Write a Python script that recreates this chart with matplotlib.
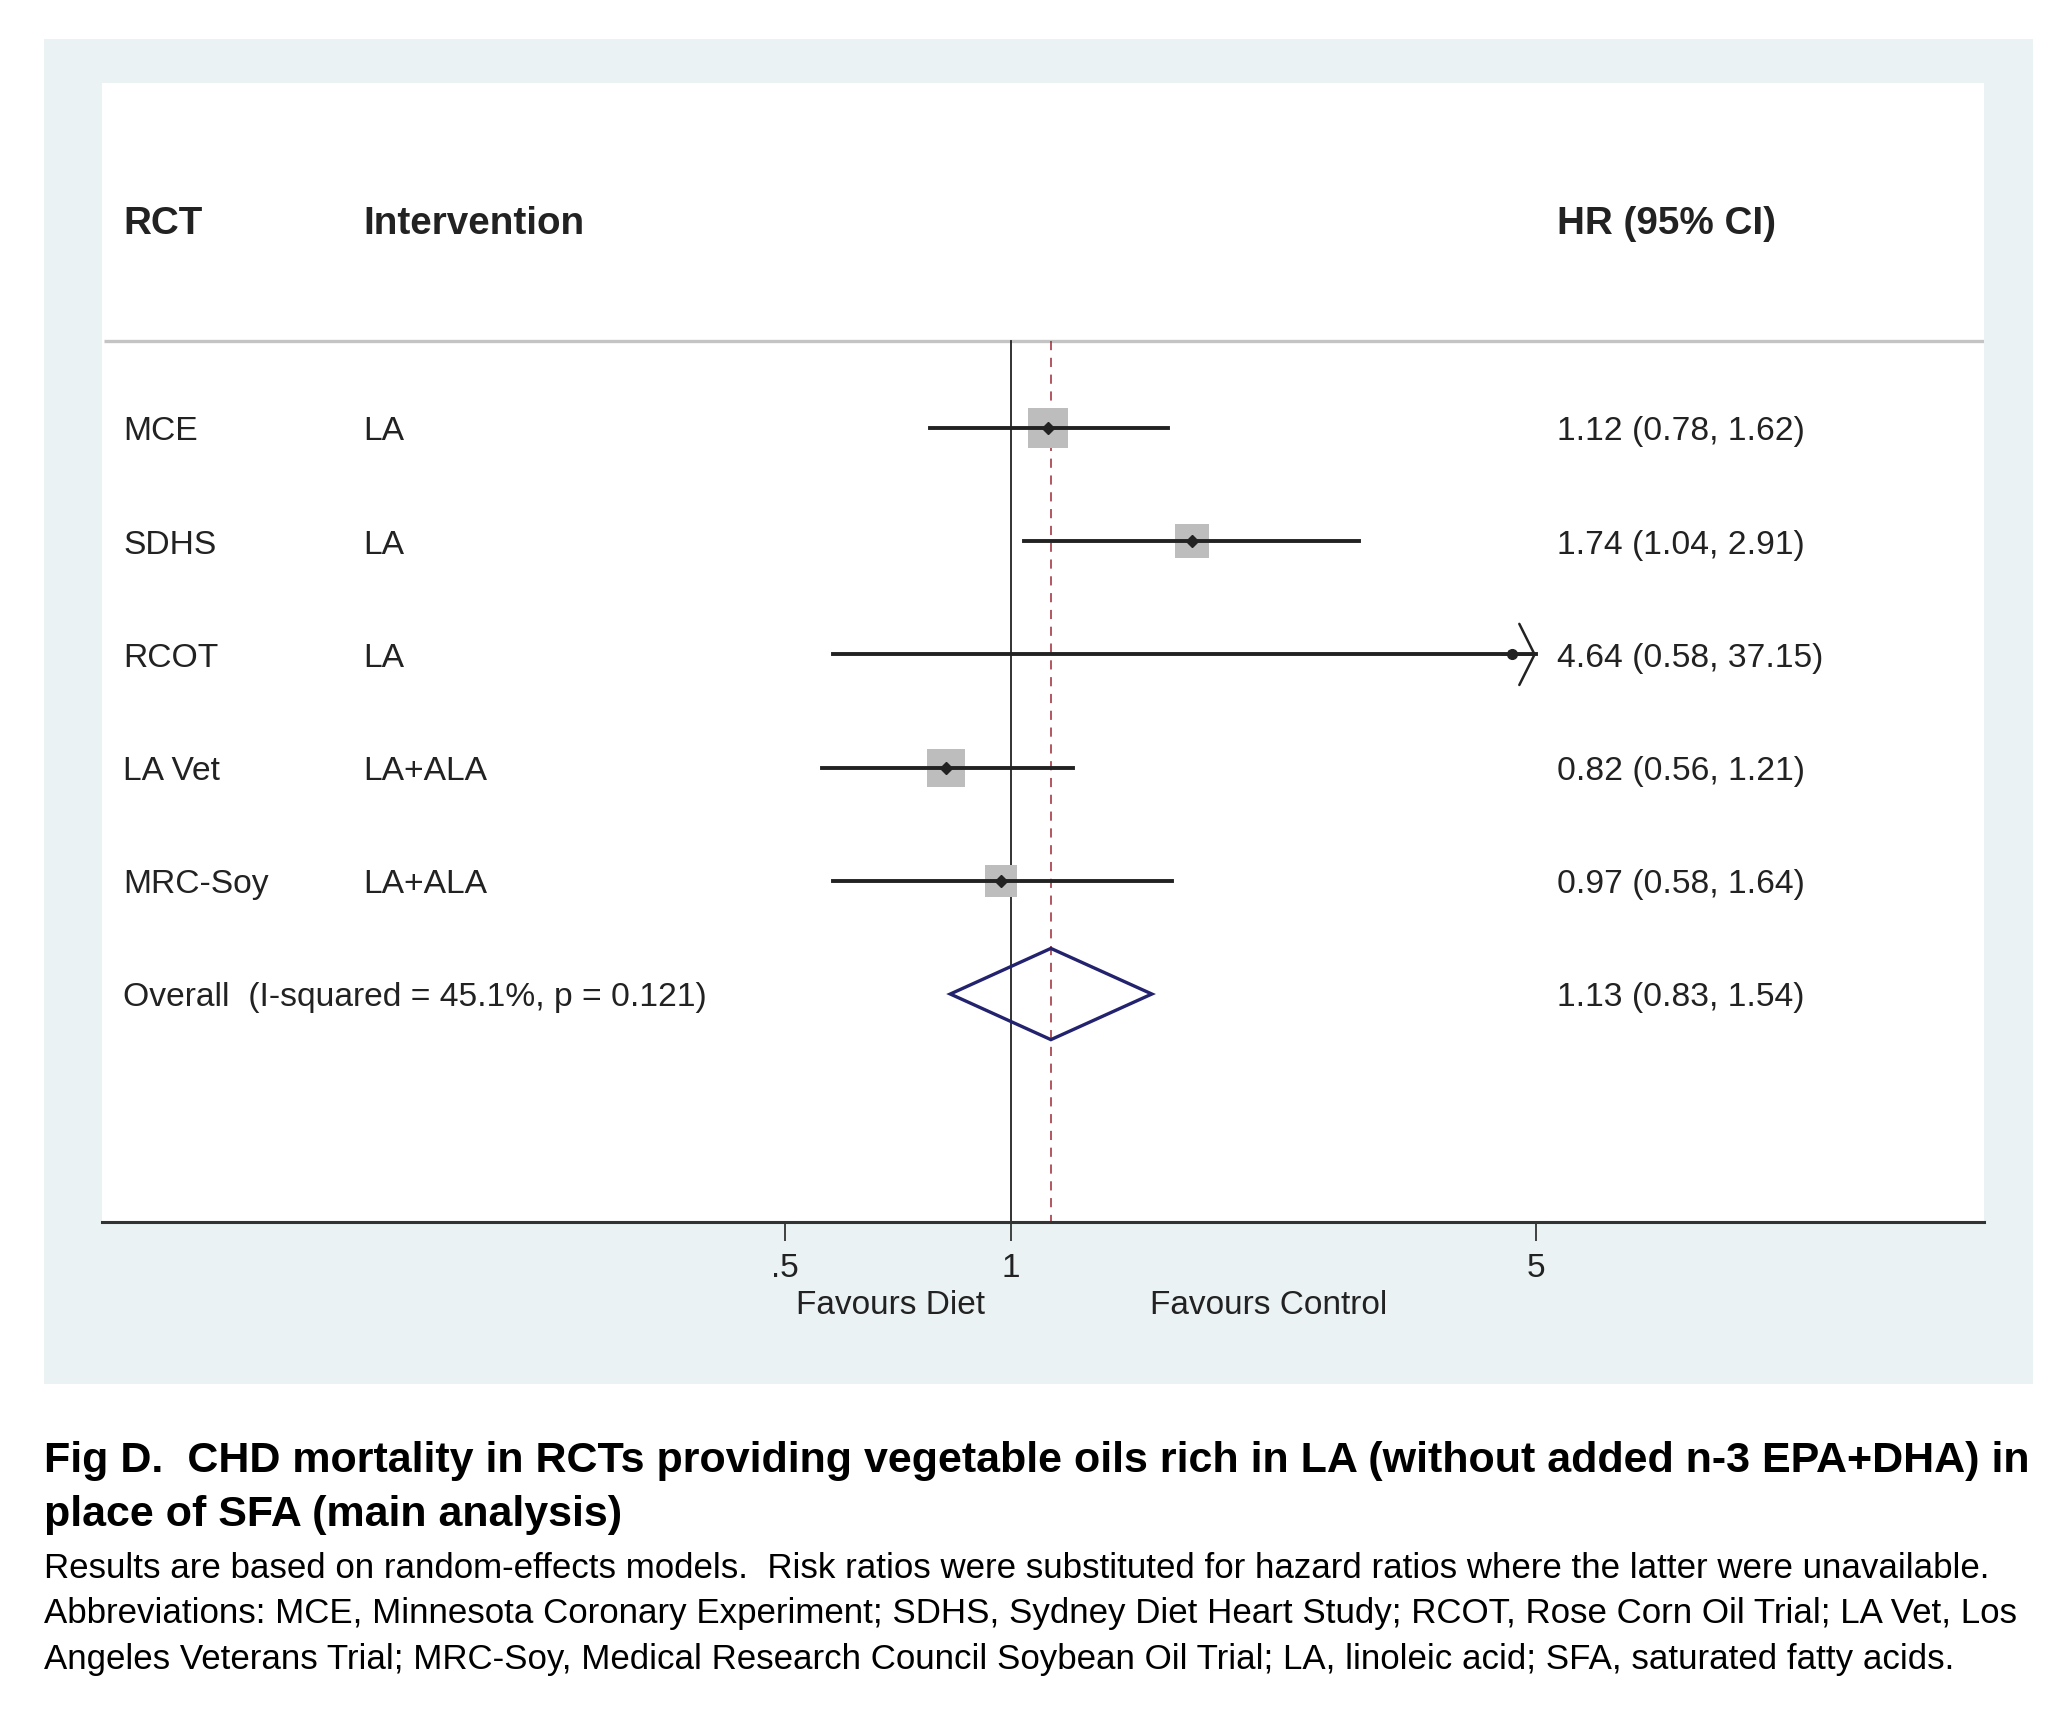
import numpy as np
import matplotlib.pyplot as plt
from matplotlib.patches import Polygon

plt.rcParams['font.family'] = ['Liberation Sans', 'DejaVu Sans']

# study-level data (hazard ratios, 95% CI, % weight)
studies = ['MCE', 'SDHS', 'RCOT', 'LA Vet', 'MRC-Soy']
interventions = ['LA', 'LA', 'LA', 'LA+ALA', 'LA+ALA']
hr = [1.12, 1.74, 4.64, 0.82, 0.97]
ci_lo = [0.78, 1.04, 0.58, 0.56, 0.58]
ci_hi = [1.62, 2.91, 37.15, 1.21, 1.64]
weights = [31.0, 22.0, 1.0, 27.0, 19.0]

# pooled estimate
overall_label = 'Overall  (I-squared = 45.1%, p = 0.121)'
overall_hr = 1.13
overall_lo = 0.83
overall_hi = 1.54

xticks = [0.5, 1, 5]
xtick_labels = ['.5', '1', '5']
x_clip = 5.0

caption_bold = ['Fig D.  CHD mortality in RCTs providing vegetable oils rich in LA (without added n-3 EPA+DHA) in',
                'place of SFA (main analysis)']
caption_text = ['Results are based on random-effects models.  Risk ratios were substituted for hazard ratios where the latter were unavailable.',
                'Abbreviations: MCE, Minnesota Coronary Experiment; SDHS, Sydney Diet Heart Study; RCOT, Rose Corn Oil Trial; LA Vet, Los',
                'Angeles Veterans Trial; MRC-Soy, Medical Research Council Soybean Oil Trial; LA, linoleic acid; SFA, saturated fatty acids.']

W, H = 2072, 1710
fig = plt.figure(figsize=(W / 100, H / 100), dpi=100)
fig.patch.set_facecolor('white')

# light panel behind the graph
bg = fig.add_axes([43.6 / W, 1 - 1384 / H, (2033 - 43.6) / W, (1384 - 39) / H], zorder=0)
bg.set_facecolor('#eaf2f3')
bg.set_xticks([])
bg.set_yticks([])
for s in bg.spines.values():
    s.set_visible(False)

ax = fig.add_axes([102 / W, 1 - 1222 / H, (1984 - 102) / W, (1222 - 83) / H], zorder=1)
ax.set_facecolor('white')
ax.set_xscale('log')
ax.set_xlim(np.exp(-2.787), np.exp(2.983))
ax.set_ylim(7.014, -3.048)

for s in ['top', 'left', 'right']:
    ax.spines[s].set_visible(False)
ax.spines['bottom'].set_color('#333333')
ax.spines['bottom'].set_linewidth(2.2)
ax.set_yticks([])
ax.set_xticks(xticks)
ax.set_xticklabels(xtick_labels)
ax.xaxis.set_minor_locator(plt.NullLocator())
ax.tick_params(axis='x', direction='out', length=14, width=1.3, color='#333333',
               labelsize=24, pad=8, labelcolor='#222222')

fs = 24.2
fs_head = 27.8
y_head = -1.80
y_sep = -0.769
dy = 0.035  # text sits slightly below the marker line
tr = ax.get_yaxis_transform()
col_x = [0.0112, 0.139, 0.7731]

ax.text(col_x[0], y_head, 'RCT', transform=tr, fontsize=fs_head, fontweight='bold', va='center', color='#222222')
ax.text(col_x[1], y_head, 'Intervention', transform=tr, fontsize=fs_head, fontweight='bold', va='center', color='#222222')
ax.text(col_x[2], y_head, 'HR (95% CI)', transform=tr, fontsize=fs_head, fontweight='bold', va='center', color='#222222')
ax.plot([0.001, 1], [y_sep, y_sep], transform=tr, color='#c4c4c4', lw=2.4, solid_capstyle='butt')

ylo, yhi = ax.get_ylim()
ax.plot([1, 1], [y_sep, ylo], color='#222222', lw=1.3, zorder=2)
ax.plot([overall_hr, overall_hr], [y_sep, ylo], color='#9b2a35', lw=1.1,
        ls=(0, (6, 5)), zorder=2)

rows = np.arange(len(studies))
for i, y in enumerate(rows):
    ax.text(col_x[0], y + dy, studies[i], transform=tr, fontsize=fs, va='center', color='#222222')
    ax.text(col_x[1], y + dy, interventions[i], transform=tr, fontsize=fs, va='center', color='#222222')
    ax.text(col_x[2], y + dy, f'{hr[i]:.2f} ({ci_lo[i]:.2f}, {ci_hi[i]:.2f})', transform=tr,
            fontsize=fs, va='center', color='#222222')
    side = 5.2 * np.sqrt(weights[i])
    ax.scatter([hr[i]], [y], marker='s', s=side ** 2, color='#bdbdbd', zorder=3, linewidths=0)
    if ci_hi[i] > x_clip:
        ax.plot([ci_lo[i], x_clip], [y, y], color='#222222', lw=2.8, zorder=4)
        ax.annotate('', xy=(x_clip, y), xytext=(x_clip * 0.9, y),
                    arrowprops=dict(arrowstyle='->,head_length=0.5,head_width=1.0',
                                    color='#222222', lw=1.8, mutation_scale=22,
                                    shrinkA=0, shrinkB=0), zorder=4)
        ax.plot([hr[i]], [y], marker='o', ms=7, color='#222222', zorder=5)
    else:
        ax.plot([ci_lo[i], ci_hi[i]], [y, y], color='#222222', lw=2.8, zorder=4)
        ax.plot([hr[i]], [y], marker='D', ms=6, color='#222222', zorder=5)

y_ov = len(studies)
ax.text(col_x[0], y_ov + dy, overall_label, transform=tr, fontsize=fs, va='center', color='#222222')
ax.text(col_x[2], y_ov + dy, f'{overall_hr:.2f} ({overall_lo:.2f}, {overall_hi:.2f})', transform=tr,
        fontsize=fs, va='center', color='#222222')
hd = 0.403
ax.add_patch(Polygon([(overall_lo, y_ov), (overall_hr, y_ov - hd), (overall_hi, y_ov),
                      (overall_hr, y_ov + hd)], closed=True, fill=False,
                     edgecolor='#22226e', lw=2.4, zorder=5))

# direction labels under the axis
fig.text(890 / W, 1 - 1305 / H, 'Favours Diet', fontsize=24, ha='center', va='center',
         color='#222222', zorder=3)
fig.text(1269 / W, 1 - 1305 / H, 'Favours Control', fontsize=24, ha='center', va='center',
         color='#222222', zorder=3)

for k, line in enumerate(caption_bold):
    fig.text(43.6 / W, 1 - (1461 + 54 * k) / H, line, fontsize=31, fontweight='bold', va='center')
for k, line in enumerate(caption_text):
    fig.text(43.6 / W, 1 - (1568 + 45.5 * k) / H, line, fontsize=25.1, va='center')

fig.savefig('out.png', dpi=100)
